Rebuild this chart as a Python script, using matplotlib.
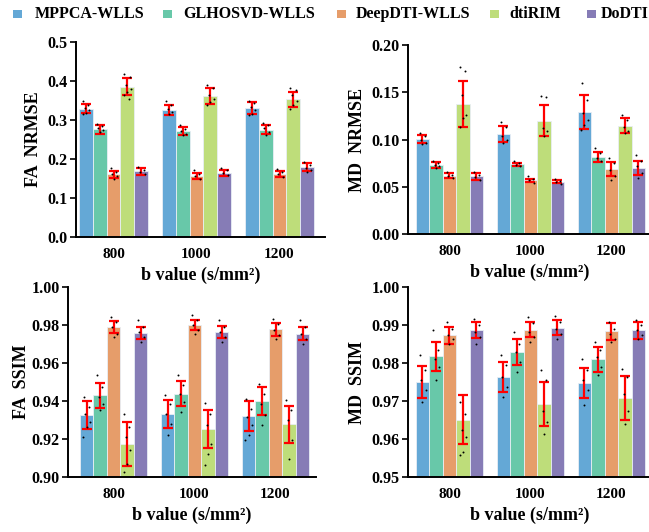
import numpy as np
import matplotlib
matplotlib.use("Agg")
import matplotlib.pyplot as plt
from matplotlib.patches import Rectangle

plt.rcParams["font.family"] = ["Liberation Serif", "DejaVu Serif"]
plt.rcParams["font.weight"] = "bold"

# Data
methods = ["MPPCA-WLLS", "GLHOSVD-WLLS", "DeepDTI-WLLS", "dtiRIM", "DoDTI"]
b_values = ["800", "1000", "1200"]
colors = ["#64A8D6", "#68C8A9", "#E69D6A", "#BEDD7A", "#867CB6"]

# rows: b value, cols: method
fa_nrmse_mean = [[0.329, 0.276, 0.161, 0.385, 0.168],
                 [0.326, 0.271, 0.156, 0.361, 0.165],
                 [0.331, 0.275, 0.162, 0.353, 0.179]]
fa_nrmse_sd = [[0.012, 0.011, 0.009, 0.022, 0.008],
               [0.012, 0.010, 0.008, 0.020, 0.008],
               [0.016, 0.012, 0.008, 0.020, 0.010]]
fa_nrmse_pts = [
    [[0.350, 0.338, 0.332, 0.325, 0.319, 0.316], [0.291, 0.285, 0.279, 0.274, 0.268],
     [0.177, 0.167, 0.161, 0.156, 0.150], [0.419, 0.410, 0.389, 0.380, 0.372, 0.363, 0.355],
     [0.179, 0.173, 0.167, 0.162]],
    [[0.348, 0.338, 0.329, 0.321, 0.315], [0.286, 0.278, 0.272, 0.265, 0.261],
     [0.171, 0.162, 0.156, 0.150], [0.389, 0.383, 0.363, 0.355, 0.346, 0.338],
     [0.178, 0.171, 0.164, 0.158]],
    [[0.350, 0.344, 0.333, 0.325, 0.316, 0.314], [0.292, 0.286, 0.279, 0.269, 0.262],
     [0.175, 0.167, 0.161, 0.154], [0.383, 0.376, 0.363, 0.350, 0.338, 0.327],
     [0.192, 0.184, 0.178, 0.171, 0.167]],
]

md_nrmse_mean = [[0.1004, 0.0732, 0.0616, 0.1377, 0.0609],
                 [0.1060, 0.0736, 0.0567, 0.1200, 0.0553],
                 [0.1290, 0.0820, 0.0687, 0.1148, 0.0697]]
md_nrmse_sd = [[0.0040, 0.0030, 0.0025, 0.0245, 0.0035],
               [0.0083, 0.0020, 0.0020, 0.0164, 0.0015],
               [0.0178, 0.0053, 0.0076, 0.0080, 0.0077]]
md_nrmse_pts = [
    [[0.1074, 0.1032, 0.0996, 0.0968, 0.0954], [0.0775, 0.0750, 0.0732, 0.0715, 0.0697],
     [0.0651, 0.0627, 0.0609, 0.0592], [0.177, 0.172, 0.147, 0.126, 0.1225, 0.1137],
     [0.0651, 0.0620, 0.0599, 0.0574]],
    [[0.118, 0.1137, 0.1032, 0.0996, 0.0961], [0.0768, 0.0750, 0.0732, 0.0715],
     [0.0609, 0.0585, 0.0567, 0.0539], [0.146, 0.1454, 0.112, 0.1085, 0.1039],
     [0.0581, 0.0563, 0.0546, 0.0532]],
    [[0.1595, 0.1419, 0.1278, 0.1208, 0.1155, 0.1102], [0.0908, 0.0856, 0.0803, 0.0768],
     [0.0803, 0.0750, 0.0680, 0.0609, 0.0574], [0.126, 0.1208, 0.1137, 0.1085, 0.1067],
     [0.0838, 0.0768, 0.0715, 0.0644, 0.0592]],
]

fa_ssim_mean = [[0.9325, 0.9430, 0.9790, 0.9174, 0.9760],
                [0.9333, 0.9439, 0.9800, 0.9251, 0.9765],
                [0.9319, 0.9400, 0.9777, 0.9277, 0.9754]]
fa_ssim_sd = [[0.0074, 0.0066, 0.0030, 0.0118, 0.0032],
              [0.0074, 0.0066, 0.0026, 0.0099, 0.0032],
              [0.0079, 0.0073, 0.0033, 0.0099, 0.0033]]
fa_ssim_pts = [
    [[0.9421, 0.9368, 0.9333, 0.9289, 0.9263, 0.9211], [0.9535, 0.9474, 0.9421, 0.9386, 0.9351],
     [0.9842, 0.9816, 0.9789, 0.9754, 0.9737], [0.9333, 0.9263, 0.9211, 0.9140, 0.9070, 0.9026],
     [0.9825, 0.9789, 0.9763, 0.9737, 0.9711]],
    [[0.9430, 0.9386, 0.9333, 0.9281, 0.9219], [0.9535, 0.9482, 0.9439, 0.9395, 0.9342],
     [0.9851, 0.9825, 0.9798, 0.9772, 0.9754], [0.9389, 0.9333, 0.9272, 0.9175, 0.9123, 0.9061],
     [0.9825, 0.9789, 0.9763, 0.9737, 0.9711]],
    [[0.9412, 0.9360, 0.9316, 0.9272, 0.9219, 0.9193], [0.9491, 0.9439, 0.9386, 0.9325, 0.9272],
     [0.9833, 0.9807, 0.9775, 0.9746, 0.9728], [0.9404, 0.9351, 0.9298, 0.9193, 0.9096],
     [0.9825, 0.9789, 0.9754, 0.9728, 0.9702]],
]

md_ssim_mean = [[0.9750, 0.9818, 0.9873, 0.9651, 0.9886],
                [0.9763, 0.9829, 0.9888, 0.9691, 0.9893],
                [0.9748, 0.9810, 0.9883, 0.9708, 0.9886]]
md_ssim_sd = [[0.0041, 0.0038, 0.0023, 0.0064, 0.0021],
              [0.0039, 0.0035, 0.0020, 0.0058, 0.0020],
              [0.0040, 0.0033, 0.0022, 0.0057, 0.0022]]
md_ssim_pts = [
    [[0.9820, 0.9781, 0.9754, 0.9728, 0.9697], [0.9886, 0.9833, 0.9811, 0.9789, 0.9754],
     [0.9908, 0.9890, 0.9873, 0.9864, 0.9851], [0.9697, 0.9667, 0.9623, 0.9605, 0.9566, 0.9557],
     [0.9917, 0.9899, 0.9882, 0.9868, 0.9851]],
    [[0.9820, 0.9794, 0.9763, 0.9737, 0.9711], [0.9882, 0.9851, 0.9829, 0.9803, 0.9776],
     [0.9921, 0.9904, 0.9882, 0.9868, 0.9855], [0.9781, 0.9754, 0.9675, 0.9645, 0.9614],
     [0.9925, 0.9908, 0.9890, 0.9877, 0.9864]],
    [[0.9811, 0.9781, 0.9754, 0.9728, 0.9689], [0.9855, 0.9833, 0.9816, 0.9789, 0.9768],
     [0.9908, 0.9890, 0.9877, 0.9864, 0.9855], [0.9785, 0.9763, 0.9719, 0.9675, 0.9640],
     [0.9912, 0.9899, 0.9886, 0.9873, 0.9864]],
]

# -----------------------------
fig = plt.figure(figsize=(6.49, 5.32), dpi=100)
W, H = 649, 532


def px_axes(left, right, top, bottom):
    return fig.add_axes([left / W, 1 - bottom / H, (right - left) / W, (bottom - top) / H])


def draw_panel(ax, means, sds, pts, ylabel, ylim, yticks, fmt, xlim):
    w = 1 / 6
    x = np.arange(len(b_values))
    means = np.array(means)
    sds = np.array(sds)
    jitter = [-0.035, 0.03, -0.015, 0.04, 0.0, -0.04, 0.02]
    for j in range(len(methods)):
        xs = x + (j - 2) * w
        ax.bar(xs, means[:, j] - ylim[0], w, bottom=ylim[0], color=colors[j],
               edgecolor="#E8EEF5", linewidth=0.6, zorder=2)
        for i in range(len(b_values)):
            p = pts[i][j]
            ax.scatter(xs[i] + np.array(jitter[:len(p)]), p, s=2, color="black",
                       zorder=4, linewidths=0)
        ax.errorbar(xs, means[:, j], yerr=sds[:, j], fmt="none", ecolor="#FF0000",
                    elinewidth=1.6, capsize=3.5, capthick=1.6, zorder=3)
    ax.set_xlim(*xlim)
    ax.set_ylim(*ylim)
    ax.set_xticks(x)
    ax.set_xticklabels(b_values, fontsize=11, fontweight="bold")
    ax.set_yticks(yticks)
    ax.set_yticklabels([fmt.format(t) for t in yticks], fontsize=11.5, fontweight="bold")
    ax.tick_params(axis="y", direction="out", length=4, width=1.2, pad=2)
    ax.tick_params(axis="x", length=0, pad=8)
    for s in ["top", "right"]:
        ax.spines[s].set_visible(False)
    for s in ["left", "bottom"]:
        ax.spines[s].set_linewidth(1.4)
    ax.set_ylabel(ylabel, fontsize=13, fontweight="bold")
    ax.set_xlabel("b value (s/mm²)", fontsize=13, fontweight="bold", labelpad=4)


ax1 = px_axes(76, 325, 42, 237)
draw_panel(ax1, fa_nrmse_mean, fa_nrmse_sd, fa_nrmse_pts, "FA  NRMSE",
           (0, 0.5), np.arange(0, 0.51, 0.1), "{:.1f}", (-0.452, 2.548))

ax2 = px_axes(408, 652, 45, 234)
draw_panel(ax2, md_nrmse_mean, md_nrmse_sd, md_nrmse_pts, "MD  NRMSE",
           (0, 0.20), np.arange(0, 0.201, 0.05), "{:.2f}", (-0.512, 2.5))

ax3 = px_axes(68, 316, 287, 477)
draw_panel(ax3, fa_ssim_mean, fa_ssim_sd, fa_ssim_pts, "FA  SSIM",
           (0.90, 1.00), np.arange(0.90, 1.001, 0.02), "{:.2f}", (-0.562, 2.5))
ax3.yaxis.labelpad = 1

ax4 = px_axes(408, 652, 287, 477)
draw_panel(ax4, md_ssim_mean, md_ssim_sd, md_ssim_pts, "MD  SSIM",
           (0.95, 1.00), np.arange(0.95, 1.001, 0.01), "{:.2f}", (-0.512, 2.5))

# legend row at the top
leg_sq = [13, 163, 337, 490, 587]
leg_tx = [35, 183, 356, 509, 601]
for xs, xt, c, m in zip(leg_sq, leg_tx, colors, methods):
    fig.patches.append(Rectangle((xs / W, 1 - 18 / H), 8.5 / W, 8.5 / H, facecolor=c,
                                 edgecolor="none", transform=fig.transFigure))
    fig.text(xt / W, 1 - 14 / H, m, fontsize=11.5, fontweight="bold", va="center", ha="left")

fig.savefig("out.png", dpi=100)
